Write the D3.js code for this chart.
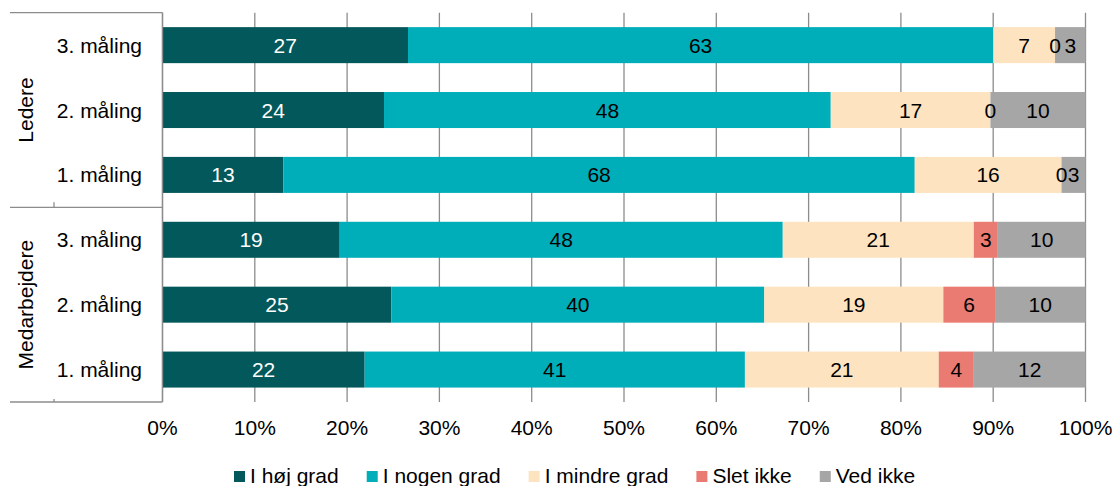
<!DOCTYPE html>
<html>
<head>
<meta charset="utf-8">
<script src="https://cdn.jsdelivr.net/npm/d3@7"></script>
<style>
  html, body { margin: 0; padding: 0; background: #fff; }
  svg { display: block; font-family: "Liberation Sans", Arial, sans-serif; }
</style>
</head>
<body>
<svg id="chart" width="1115" height="486"></svg>
<script>
// ---- Data ----
const groups = ["Ledere", "Medarbejdere"];
const rows = ["3. måling", "2. måling", "1. måling", "3. måling", "2. måling", "1. måling"];
const rowGroup = ["Ledere", "Ledere", "Ledere", "Medarbejdere", "Medarbejdere", "Medarbejdere"];
const seriesNames = ["I høj grad", "I nogen grad", "I mindre grad", "Slet ikke", "Ved ikke"];
const seriesColors = ["#03585b", "#00aeb9", "#fde3bf", "#ea7b72", "#a6a6a6"];
const labelColors = ["#ffffff", "#000000", "#000000", "#000000", "#000000"];
// values per row, per series (percent)
const iHoejGrad   = [26.6, 24.0, 13.1, 19.2, 24.8, 21.9];
const iNogenGrad  = [63.4, 48.4, 68.4, 48.0, 40.4, 41.2];
const iMindreGrad = [6.7, 17.3, 15.9, 20.7, 19.4, 21.0];
const sletIkke    = [0.0, 0.0, 0.0, 2.6, 5.6, 3.8];
const vedIkke     = [3.3, 10.3, 2.6, 9.5, 9.8, 12.1];
const xTicks = [0, 10, 20, 30, 40, 50, 60, 70, 80, 90, 100];

const seriesValues = [iHoejGrad, iNogenGrad, iMindreGrad, sletIkke, vedIkke];

// ---- Layout ----
const svg = d3.select("#chart");
const plotLeft = 162.5, plotRight = 1085.5, plotTop = 12.7, plotBottom = 402;
const gridColor = "#8c8c8c";
const fontSize = 21;

const rowIds = rows.map((r, i) => i);
const x = d3.scaleLinear().domain([0, 100]).range([plotLeft, plotRight]);
const y = d3.scaleBand().domain(rowIds).range([plotTop, plotBottom])
  .paddingInner(0.445).paddingOuter(0.2225);

// gridlines
svg.append("g").selectAll("line").data(xTicks).join("line")
  .attr("x1", d => x(d)).attr("x2", d => x(d))
  .attr("y1", plotTop).attr("y2", plotBottom)
  .attr("stroke", gridColor).attr("stroke-width", 1.3);

// stacked data
const table = rowIds.map(i => {
  const o = { id: i };
  seriesNames.forEach((s, k) => o[s] = seriesValues[k][i]);
  return o;
});
const stacked = d3.stack().keys(seriesNames)(table);

const bars = svg.append("g");
stacked.forEach((layer, k) => {
  bars.append("g").attr("fill", seriesColors[k])
    .selectAll("rect").data(layer).join("rect")
    .attr("x", d => x(d[0]))
    .attr("width", d => Math.max(0, x(d[1]) - x(d[0])))
    .attr("y", d => y(d.data.id))
    .attr("height", y.bandwidth());
});

// data labels
const labels = svg.append("g").attr("font-size", fontSize).attr("text-anchor", "middle");
stacked.forEach((layer, k) => {
  labels.append("g").attr("fill", labelColors[k])
    .selectAll("text").data(layer).join("text")
    .attr("x", d => (x(d[0]) + x(d[1])) / 2)
    .attr("y", d => y(d.data.id) + y.bandwidth() / 2)
    .attr("dy", "0.36em")
    .text(d => d3.format(".0f")(d[1] - d[0]));
});

// x axis tick labels
svg.append("g").attr("font-size", fontSize).attr("text-anchor", "middle").attr("fill", "#000")
  .selectAll("text").data(xTicks).join("text")
  .attr("x", d => x(d)).attr("y", 434.7)
  .text(d => d + "%");

// category axis (multi-level)
const axisG = svg.append("g").attr("stroke", gridColor).attr("stroke-width", 1.3);
axisG.append("line").attr("x1", plotLeft).attr("x2", plotLeft).attr("y1", plotTop).attr("y2", plotBottom);
const groupBounds = [plotTop, (plotTop + plotBottom) / 2, plotBottom];
groupBounds.forEach(b => {
  axisG.append("line").attr("x1", 10).attr("x2", plotLeft).attr("y1", b).attr("y2", b);
});
// small inner ticks
axisG.append("line").attr("x1", 54).attr("x2", 54).attr("y1", groupBounds[1] - 5).attr("y2", groupBounds[1]);
axisG.append("line").attr("x1", 54).attr("x2", 54).attr("y1", groupBounds[2] - 3).attr("y2", groupBounds[2]);

svg.append("g").attr("font-size", fontSize).attr("text-anchor", "end").attr("fill", "#000")
  .selectAll("text").data(rowIds).join("text")
  .attr("x", 142).attr("y", d => y(d) + y.bandwidth() / 2).attr("dy", "0.36em")
  .text(d => rows[d]);

groups.forEach((g, gi) => {
  const cy = (groupBounds[gi] + groupBounds[gi + 1]) / 2;
  svg.append("text").attr("font-size", fontSize).attr("text-anchor", "middle")
    .attr("transform", `translate(25,${cy}) rotate(-90)`).attr("dy", "0.36em")
    .text(g);
});

// legend
const legend = svg.append("g").attr("font-size", fontSize);
let lx = 234;
seriesNames.forEach((s, k) => {
  legend.append("rect").attr("x", lx).attr("y", 471).attr("width", 11).attr("height", 11)
    .attr("fill", seriesColors[k]);
  const t = legend.append("text").attr("x", lx + 16).attr("y", 483).attr("fill", "#000").text(s);
  const w = t.node().getComputedTextLength();
  lx = lx + 16 + w + 28;
});
</script>
</body>
</html>
